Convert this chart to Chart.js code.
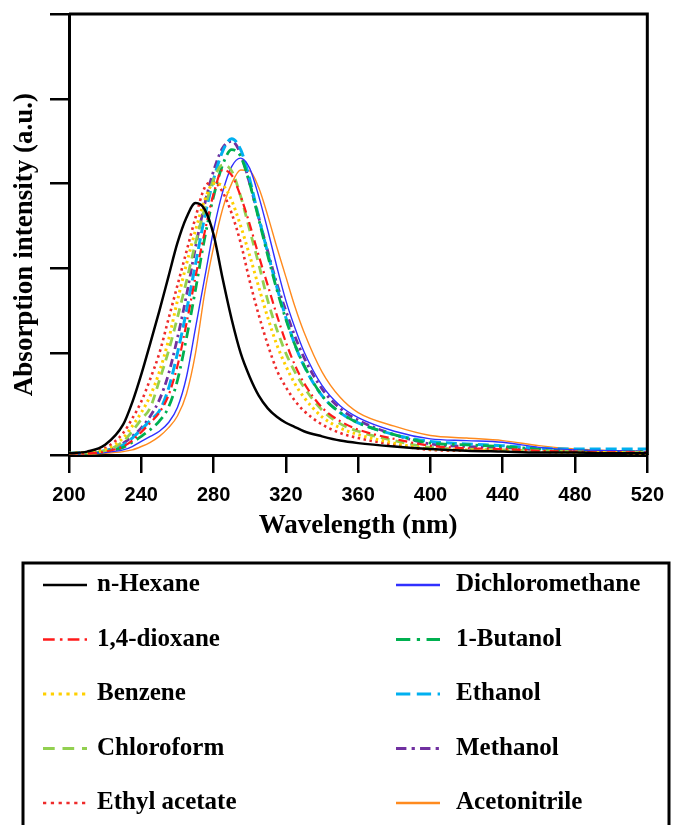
<!DOCTYPE html>
<html>
<head>
<meta charset="utf-8">
<script src="https://cdn.jsdelivr.net/npm/chart.js@4.4.1/dist/chart.umd.min.js"></script>
<style>
  html, body { margin: 0; padding: 0; background: #fff; }
  canvas { display: block; }
</style>
</head>
<body>
<canvas id="absChart" width="674" height="825"></canvas>
<script>
// Wavelength grid (nm) the curves were read on
var wavelengths = [200, 210, 220, 230, 235, 240, 245, 250, 255, 260, 265, 270, 275, 280, 285, 290, 295,
    300, 305, 310, 315, 320, 325, 330, 340, 350, 360, 380, 400, 420, 440, 460, 480, 500, 520];

// Absorption intensity (a.u.) per solvent
var hexane = [0.02, 0.04, 0.12, 0.36, 0.62, 0.95, 1.32, 1.7, 2.1, 2.5, 2.8, 2.97, 2.9, 2.6, 2.08, 1.6, 1.2,
    0.92, 0.7, 0.55, 0.45, 0.38, 0.33, 0.28, 0.22, 0.17, 0.14, 0.1, 0.07, 0.05, 0.04, 0.03, 0.03, 0.02, 0.02];
var dioxane = [0.02, 0.02, 0.04, 0.1, 0.17, 0.27, 0.38, 0.5, 0.7, 1.05, 1.55, 2.1, 2.62, 3.08, 3.36, 3.3, 3.05,
    2.72, 2.35, 2.0, 1.65, 1.33, 1.06, 0.85, 0.56, 0.4, 0.3, 0.19, 0.11, 0.08, 0.07, 0.05, 0.04, 0.03, 0.03];
var benzene = [0.02, 0.03, 0.06, 0.2, 0.34, 0.5, 0.7, 0.98, 1.35, 1.82, 2.25, 2.65, 3.0, 3.2, 3.18, 3.0, 2.7,
    2.35, 1.98, 1.62, 1.3, 1.05, 0.84, 0.68, 0.45, 0.32, 0.24, 0.14, 0.07, 0.06, 0.05, 0.04, 0.03, 0.03, 0.02];
var chloroform = [0.02, 0.03, 0.05, 0.16, 0.28, 0.42, 0.56, 0.88, 1.22, 1.62, 2.05, 2.5, 2.9, 3.25, 3.42, 3.35, 3.05,
    2.65, 2.25, 1.82, 1.48, 1.2, 0.98, 0.8, 0.53, 0.37, 0.28, 0.17, 0.09, 0.07, 0.06, 0.05, 0.04, 0.03, 0.03];
var ethylAcetate = [0.02, 0.03, 0.08, 0.26, 0.43, 0.63, 0.9, 1.2, 1.6, 2.0, 2.4, 2.8, 3.15, 3.22, 3.1, 2.85, 2.5,
    2.05, 1.65, 1.3, 1.0, 0.8, 0.64, 0.52, 0.36, 0.26, 0.2, 0.12, 0.06, 0.05, 0.05, 0.04, 0.03, 0.03, 0.02];
var dichloromethane = [0.01, 0.02, 0.03, 0.06, 0.1, 0.16, 0.22, 0.28, 0.38, 0.56, 0.92, 1.5, 2.08, 2.65, 3.1, 3.4, 3.5,
    3.38, 3.05, 2.65, 2.22, 1.82, 1.5, 1.22, 0.82, 0.58, 0.44, 0.28, 0.19, 0.17, 0.15, 0.09, 0.06, 0.05, 0.04];
var butanol = [0.02, 0.02, 0.04, 0.09, 0.15, 0.22, 0.3, 0.4, 0.56, 0.88, 1.38, 1.95, 2.55, 3.05, 3.42, 3.6, 3.52,
    3.2, 2.78, 2.35, 1.95, 1.6, 1.3, 1.06, 0.7, 0.5, 0.38, 0.24, 0.14, 0.12, 0.1, 0.07, 0.05, 0.04, 0.04];
var ethanol = [0.02, 0.03, 0.05, 0.12, 0.2, 0.3, 0.41, 0.52, 0.78, 1.2, 1.7, 2.25, 2.8, 3.25, 3.58, 3.73, 3.6,
    3.25, 2.8, 2.38, 1.98, 1.62, 1.3, 1.05, 0.7, 0.5, 0.38, 0.24, 0.16, 0.13, 0.11, 0.08, 0.07, 0.07, 0.07];
var methanol = [0.02, 0.03, 0.05, 0.14, 0.22, 0.32, 0.46, 0.65, 0.95, 1.38, 1.88, 2.45, 2.95, 3.35, 3.62, 3.7, 3.55,
    3.2, 2.8, 2.4, 2.02, 1.7, 1.4, 1.15, 0.78, 0.55, 0.41, 0.24, 0.13, 0.1, 0.09, 0.06, 0.05, 0.04, 0.04];
var acetonitrile = [0.01, 0.01, 0.02, 0.04, 0.06, 0.1, 0.15, 0.22, 0.32, 0.46, 0.72, 1.2, 1.9, 2.45, 2.9, 3.2, 3.36,
    3.35, 3.15, 2.82, 2.45, 2.1, 1.75, 1.45, 0.98, 0.68, 0.5, 0.34, 0.23, 0.2, 0.17, 0.11, 0.07, 0.05, 0.04];

// Axis ticks
var xTicks = [200, 240, 280, 320, 360, 400, 440, 480, 520];
var yTicks = [0, 1.2, 2.2, 3.2, 4.2, 5.2];

// Legend order: left column first, then right column
var solvents = [
    { label: 'n-Hexane',        data: hexane,          color: '#000000', width: 2.5, dash: [] },
    { label: '1,4-dioxane',     data: dioxane,         color: '#ff1a1a', width: 2.2, dash: [9, 4, 2, 4] },
    { label: 'Benzene',         data: benzene,         color: '#ffd000', width: 3,   dash: [2.5, 3.5] },
    { label: 'Chloroform',      data: chloroform,      color: '#92d050', width: 2.8, dash: [9, 6] },
    { label: 'Ethyl acetate',   data: ethylAcetate,    color: '#ee2b2b', width: 2.6, dash: [2.5, 3.5] },
    { label: 'Dichloromethane', data: dichloromethane, color: '#3030ff', width: 1.4, dash: [] },
    { label: '1-Butanol',       data: butanol,         color: '#00b050', width: 2.8, dash: [11, 5, 2.5, 5] },
    { label: 'Ethanol',         data: ethanol,         color: '#00b0f0', width: 3,   dash: [11, 5] },
    { label: 'Methanol',        data: methanol,        color: '#7030a0', width: 2.8, dash: [8, 4, 2.5, 4] },
    { label: 'Acetonitrile',    data: acetonitrile,    color: '#ff8a1e', width: 1.4, dash: [] }
];

var serif = "'Liberation Serif', 'Times New Roman', serif";
var sans = "'Liberation Sans', Arial, sans-serif";

// Top and right border of the frame
var framePlugin = {
    id: 'frame',
    afterDraw: function(chart) {
        var ctx = chart.ctx, a = chart.chartArea;
        ctx.save();
        ctx.strokeStyle = '#000';
        ctx.lineWidth = 3;
        ctx.beginPath();
        ctx.moveTo(a.left, a.top);
        ctx.lineTo(a.right, a.top);
        ctx.lineTo(a.right, a.bottom);
        ctx.stroke();
        ctx.restore();
    }
};

// Boxed two-column legend under the plot
var boxLegendPlugin = {
    id: 'boxLegend',
    afterDraw: function(chart) {
        var ctx = chart.ctx;
        ctx.save();
        ctx.strokeStyle = '#000';
        ctx.lineWidth = 3;
        ctx.strokeRect(23, 563, 646, 320);
        ctx.font = 'bold 25px ' + serif;
        ctx.textBaseline = 'middle';
        ctx.textAlign = 'left';
        chart.data.datasets.forEach(function(ds, i) {
            var col = i < 5 ? 0 : 1;
            var row = i % 5;
            var y = 585 + row * 54.5;
            var x0 = col === 0 ? 43 : 396;
            var tx = col === 0 ? 97 : 456;
            ctx.strokeStyle = ds.borderColor;
            ctx.lineWidth = Math.max(ds.borderWidth, 2.5);
            ctx.setLineDash(ds.borderDash.map(function(d) { return d * 1.3; }));
            ctx.beginPath();
            ctx.moveTo(x0, y);
            ctx.lineTo(x0 + 44, y);
            ctx.stroke();
            ctx.setLineDash([]);
            ctx.fillStyle = '#000';
            ctx.fillText(ds.label, tx, y);
        });
        ctx.restore();
    }
};

new Chart(document.getElementById('absChart'), {
    type: 'line',
    data: {
        datasets: solvents.map(function(s) {
            return {
                label: s.label,
                data: s.data.map(function(v, i) { return { x: wavelengths[i], y: v }; }),
                borderColor: s.color,
                borderWidth: s.width,
                borderDash: s.dash,
                borderCapStyle: 'butt',
                pointRadius: 0,
                fill: false,
                cubicInterpolationMode: 'monotone'
            };
        })
    },
    options: {
        responsive: false,
        animation: false,
        layout: { padding: { left: 0, right: 24, top: 14, bottom: 283 } },
        plugins: {
            legend: { display: false },
            tooltip: { enabled: false }
        },
        scales: {
            x: {
                type: 'linear',
                min: 200,
                max: 520,
                afterBuildTicks: function(scale) {
                    scale.ticks = xTicks.map(function(v) { return { value: v }; });
                },
                afterFit: function(scale) { scale.height = 87; },
                grid: { drawOnChartArea: false, drawTicks: true, tickLength: 18, color: '#000', lineWidth: 2.5 },
                border: { display: true, color: '#000', width: 3 },
                ticks: {
                    color: '#000',
                    padding: 10,
                    maxRotation: 0,
                    font: { family: sans, size: 20, weight: 'bold' }
                },
                title: {
                    display: true,
                    text: 'Wavelength (nm)',
                    color: '#000',
                    padding: { top: 0, bottom: 0 },
                    font: { family: serif, size: 27, weight: 'bold' }
                }
            },
            y: {
                min: 0,
                max: 5.2,
                afterBuildTicks: function(scale) {
                    scale.ticks = yTicks.map(function(v) { return { value: v }; });
                },
                afterFit: function(scale) { scale.width = 69; },
                grid: { drawOnChartArea: false, drawTicks: true, tickLength: 19, color: '#000', lineWidth: 2.5 },
                border: { display: true, color: '#000', width: 3 },
                ticks: { display: false },
                title: {
                    display: true,
                    text: 'Absorption intensity (a.u.)   ',
                    color: '#000',
                    padding: { top: 9, bottom: 0 },
                    font: { family: serif, size: 27, weight: 'bold' }
                }
            }
        }
    },
    plugins: [framePlugin, boxLegendPlugin]
});
</script>
</body>
</html>
